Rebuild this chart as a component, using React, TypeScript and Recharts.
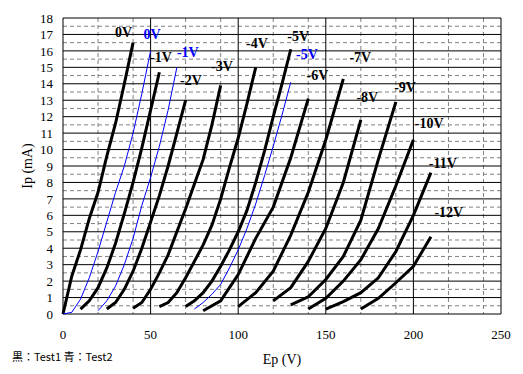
import { LineChart, Line, XAxis, YAxis, CartesianGrid, ReferenceDot } from "recharts"

type Pt = [number, number]

// Ep (V), Ip (mA)
const black0V: Pt[] = [[0, 0], [5, 2.3], [10, 3.9], [15, 5.8], [20, 7.4], [25, 9.6], [30, 11.6], [35, 14.0], [40, 16.5]]
const black1V: Pt[] = [[10, 0.3], [15, 0.8], [20, 1.6], [25, 2.8], [30, 4.3], [35, 6.1], [40, 8.0], [45, 10.1], [50, 12.4], [55, 14.7]]
const black2V: Pt[] = [[25, 0.3], [30, 0.7], [35, 1.5], [40, 2.6], [45, 4.0], [50, 5.6], [55, 7.2], [60, 9.0], [65, 11.0], [70, 13.0]]
const black3V: Pt[] = [[40, 0.35], [45, 0.7], [50, 1.5], [55, 2.5], [60, 3.6], [65, 5.0], [70, 6.4], [75, 7.9], [80, 9.4], [85, 11.5], [90, 13.9]]
const black4V: Pt[] = [[55, 0.45], [60, 0.7], [65, 1.3], [70, 2.2], [75, 3.2], [80, 4.2], [85, 5.4], [90, 7.0], [95, 8.9], [100, 10.7], [105, 12.8], [110, 15.0]]
const black5V: Pt[] = [[70, 0.45], [75, 0.8], [80, 1.3], [85, 2.0], [90, 2.9], [95, 3.9], [100, 5.0], [105, 6.3], [110, 8.0], [115, 9.9], [120, 12.0], [125, 14.0], [130, 16.1]]
const black6V: Pt[] = [[80, 0.2], [90, 0.8], [100, 2.4], [110, 4.6], [120, 6.5], [130, 9.5], [140, 13.1]]
const black7V: Pt[] = [[100, 0.45], [110, 1.3], [120, 2.6], [130, 4.8], [140, 7.4], [150, 10.6], [160, 14.3]]
const black8V: Pt[] = [[120, 0.8], [130, 1.6], [140, 3.2], [150, 5.2], [160, 8.0], [170, 11.8]]
const black9V: Pt[] = [[130, 0.55], [140, 1.05], [150, 2.1], [160, 3.5], [170, 5.7], [180, 9.4], [190, 12.9]]
const black10V: Pt[] = [[140, 0.3], [150, 0.95], [160, 2.0], [170, 3.3], [180, 5.2], [190, 7.8], [200, 10.6]]
const black11V: Pt[] = [[150, 0.3], [160, 0.75], [170, 1.3], [180, 2.2], [190, 3.8], [200, 6.0], [210, 8.6]]
const black12V: Pt[] = [[170, 0.3], [180, 0.95], [190, 1.9], [200, 2.9], [210, 4.7]]

const blue0V: Pt[] = [[0, 0], [5, 0.1], [10, 0.9], [15, 2.2], [20, 3.8], [25, 5.6], [30, 7.4], [35, 9.0], [40, 11.0], [45, 13.4], [50, 16.0]]
const blue1V: Pt[] = [[20, 0.2], [25, 0.8], [30, 1.7], [35, 3.0], [40, 4.6], [45, 6.6], [50, 8.3], [55, 10.2], [60, 12.4], [65, 15.0]]
const blue5V: Pt[] = [[75, 0.3], [80, 0.7], [85, 1.2], [90, 1.8], [95, 2.8], [100, 3.9], [105, 5.2], [110, 6.7], [115, 8.4], [120, 10.2], [125, 12.1], [130, 14.1]]

const blackCurves = [black0V, black1V, black2V, black3V, black4V, black5V, black6V, black7V, black8V, black9V, black10V, black11V, black12V]
const blueCurves = [blue0V, blue1V, blue5V]

const blackLabels = ["0V", "-1V", "-2V", "-3V", "-4V", "-5V", "-6V", "-7V", "-8V", "-9V", "-10V", "-11V", "-12V"]
const blueLabels = ["0V", "-1V", "-5V"]
// where each label sits (Ep, Ip of the text baseline start)
const blackLabelAt: Pt[] = [[29.7, 16.86], [49.7, 15.3], [66.8, 13.9], [84.5, 14.8], [104.5, 16.2], [128, 16.6], [139, 14.2], [163.5, 15.3], [167.5, 12.9], [189, 13.5], [200.8, 11.3], [208.8, 8.9], [212, 5.9]]
const blueLabelAt: Pt[] = [[46, 16.7], [65, 15.6], [133, 15.5]]

const xTicks = [0, 50, 100, 150, 200, 250]
const yTicks = [0, 1, 2, 3, 4, 5, 6, 7, 8, 9, 10, 11, 12, 13, 14, 15, 16, 17, 18]
const xDashed = [10, 20, 30, 40, 60, 70, 80, 90, 110, 120, 130, 140, 160, 170, 180, 190, 210, 220, 230, 240]
const yDashed = [0.5, 1.5, 2.5, 3.5, 4.5, 5.5, 6.5, 7.5, 8.5, 9.5, 10.5, 11.5, 12.5, 13.5, 14.5, 15.5, 16.5, 17.5]

const toRows = (pts: Pt[]) => pts.map(([ep, ip]) => ({ ep, ip }))

const serif = "'Liberation Serif', 'DejaVu Serif', serif"
const tickStyle = { fill: "#000", fontSize: 13, fontFamily: serif }

function curveLabel(text: string, color: string) {
  return (p: any) => (
    <text x={p.cx} y={p.cy} fill={color} fontSize={14} fontWeight="bold" fontFamily={serif}>
      {text}
    </text>
  )
}

export default function App() {
  return (
    <div style={{ position: "absolute", left: 0, top: 0, width: 523, height: 374, background: "white" }}>
      <LineChart width={523} height={374} margin={{ top: 18, right: 22, left: 0, bottom: 30 }}>
        <CartesianGrid stroke="#808080" strokeDasharray="4 3" horizontalValues={yDashed} verticalValues={xDashed} />
        <CartesianGrid stroke="#000" horizontalValues={yTicks} verticalValues={xTicks} />
        <XAxis
          type="number"
          dataKey="ep"
          domain={[0, 250]}
          ticks={xTicks}
          axisLine={false}
          tickLine={false}
          tickMargin={10}
          height={30}
          tick={tickStyle}
          label={{ value: "Ep (V)", position: "bottom", offset: 10, fill: "#000", fontSize: 14, fontFamily: serif }}
        />
        <YAxis
          type="number"
          domain={[0, 18]}
          ticks={yTicks}
          interval={0}
          axisLine={false}
          tickLine={false}
          tickMargin={4}
          width={63}
          tick={tickStyle}
          label={{
            value: "Ip (mA)",
            angle: -90,
            position: "insideLeft",
            offset: 27,
            style: { textAnchor: "middle" },
            fill: "#000",
            fontSize: 14,
            fontFamily: serif
          }}
        />
        {blackCurves.map((c, i) => (
          <Line
            key={"k" + i}
            data={toRows(c)}
            dataKey="ip"
            type="linear"
            stroke="#000"
            strokeWidth={3}
            dot={false}
            activeDot={false}
            isAnimationActive={false}
          />
        ))}
        {blueCurves.map((c, i) => (
          <Line
            key={"b" + i}
            data={toRows(c)}
            dataKey="ip"
            type="linear"
            stroke="#0000ff"
            strokeWidth={1}
            dot={false}
            activeDot={false}
            isAnimationActive={false}
          />
        ))}
        {blackLabels.map((t, i) => (
          <ReferenceDot key={"kl" + i} x={blackLabelAt[i][0]} y={blackLabelAt[i][1]} r={0} shape={curveLabel(t, "#000")} />
        ))}
        {blueLabels.map((t, i) => (
          <ReferenceDot key={"bl" + i} x={blueLabelAt[i][0]} y={blueLabelAt[i][1]} r={0} shape={curveLabel(t, "#0000ff")} />
        ))}
      </LineChart>
      <div
        style={{
          position: "absolute",
          left: 12,
          top: 348,
          fontSize: 11,
          fontFamily: "'Noto Sans CJK JP', sans-serif",
          color: "#000",
          whiteSpace: "pre"
        }}
      >
        黒：Test1 青：Test2
      </div>
    </div>
  )
}
